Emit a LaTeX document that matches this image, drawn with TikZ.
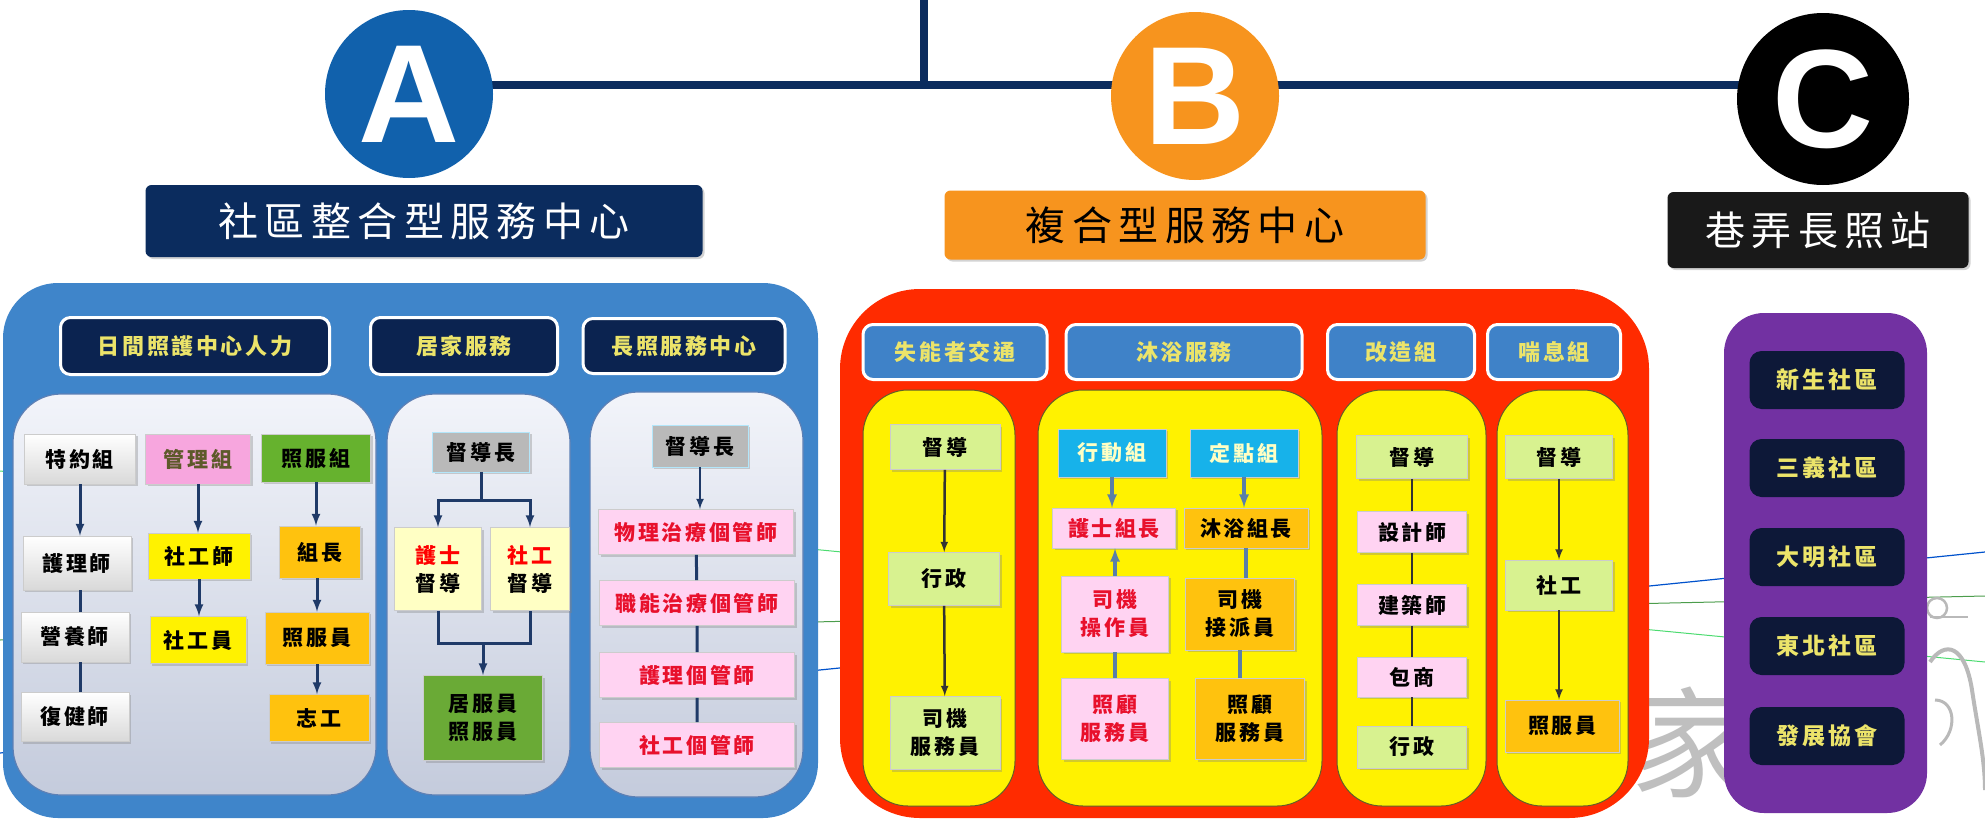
\documentclass[tikz,border=0pt]{standalone}
\usepackage{fontspec}
\usepackage{tikz}
\usetikzlibrary{shapes,arrows,shadows,backgrounds}
\usepackage{xcolor}
\newfontfamily\cjk[LetterSpace=12]{Noto Sans CJK TC}
\newfontfamily\cjktitle[LetterSpace=16]{Noto Sans CJK TC}
\newfontfamily\letterfont{Liberation Sans}
\definecolor{navy}{HTML}{0B2C5E}
\definecolor{navyH}{HTML}{0B2350}
\definecolor{circA}{HTML}{1161AC}
\definecolor{contA}{HTML}{3F85CA}
\definecolor{hdrtxt}{HTML}{ECE46A}
\definecolor{orangeB}{HTML}{F7941E}
\definecolor{redB}{HTML}{FF2B00}
\definecolor{hdrBfill}{HTML}{3F82C8}
\definecolor{lgreen}{HTML}{D8F290}
\definecolor{pinkL}{HTML}{FFD3F2}
\definecolor{pinkM}{HTML}{F7A6DE}
\definecolor{gold}{HTML}{FFC20E}
\definecolor{grass}{HTML}{66B22E}
\definecolor{grassD}{HTML}{6AAA36}
\definecolor{ltyel}{HTML}{FFFFC4}
\definecolor{cyanB}{HTML}{17B2EA}
\definecolor{purpleC}{HTML}{7231A2}
\definecolor{nightC}{HTML}{0D1838}
\definecolor{redtxt}{HTML}{E8102C}
\definecolor{linkA}{HTML}{1F3A68}
\definecolor{steel}{HTML}{5A7FA8}
\definecolor{panTop}{HTML}{F2F4FA}
\definecolor{panBot}{HTML}{C4CBDC}
\definecolor{panEdge}{HTML}{5D80B5}

\begin{document}
\begin{tikzpicture}[x=1pt,y=-1pt,
  sz/.style 2 args={minimum width=#1pt,minimum height=#2pt},
  shd/.style={drop shadow={shadow xshift=2pt,shadow yshift=-2pt,opacity=.35}},
  bx/.style={shd,draw=gray!40,line width=.8pt,inner sep=0pt,align=center,
    font=\cjk\bfseries\fontsize{21}{28}\selectfont},
  whitebx/.style={bx,top color=white,bottom color=gray!30},
  hdrA/.style={rounded corners=10pt,fill=navyH,draw=white,line width=3pt,inner sep=0pt,
    text=hdrtxt,font=\cjk\bfseries\fontsize{22}{26}\selectfont},
  hdrB/.style={hdrA,fill=hdrBfill},
  panelA/.style={rounded corners=48pt,top color=panTop,bottom color=panBot,draw=panEdge,
    line width=1.2pt,inner sep=0pt},
  panelB/.style={rounded corners=45pt,fill=yellow,draw=olive!60!black,line width=1pt,inner sep=0pt},
  cbox/.style={rounded corners=12pt,fill=nightC,inner sep=0pt,text=hdrtxt,
    font=\cjk\bfseries\fontsize{23}{26}\selectfont},
  title/.style={rounded corners=6pt,inner sep=0pt,shd,font=\cjktitle\fontsize{40}{44}\selectfont},
  letter/.style={circle,inner sep=0pt,minimum size=168pt,text=white,
    font=\letterfont\bfseries\fontsize{140}{140}\selectfont},
  lnk/.style={draw=linkA,line width=3pt},
  arr/.style={lnk,-latex},
  lnkS/.style={draw=steel,line width=3.5pt},
  arrS/.style={lnkS,-latex},
  lnkK/.style={draw=black!80,line width=2.5pt},
  arrK/.style={lnkK,-latex},
  spine/.style={draw=navy,line width=8pt}]
\useasboundingbox (0,0) rectangle (1985,822);

% faint lines behind
\draw[blue!60!cyan!80!black,line width=1.2pt] (0,753) -- (1985,552);
\draw[green!45!black!70,line width=1pt] (0,640) -- (1985,596);
\draw[green!60!teal!70,line width=1pt] (0,471) -- (1985,662);
\node[text=gray!50,font=\cjk\fontsize{120}{120}\selectfont] (jia) at (1690,742) {家};
\draw[gray!55,line width=4pt] (1930,662) .. controls (1945,640) and (1965,645) .. (1972,690)
  .. controls (1978,730) and (1985,760) .. (1985,790);
\draw[gray!55,line width=3pt] (1935,700) .. controls (1955,700) and (1958,730) .. (1940,745);
\draw[gray!55,line width=2.5pt] (1937,608) circle (10);
\draw[gray!55,line width=2.5pt] (1930,617) -- (1968,617);

% containers
\node[rounded corners=55pt,fill=contA,inner sep=0pt,sz={815}{535}] (boxA) at (410.5,550.5) {};
\node[rounded corners=80pt,fill=redB,inner sep=0pt,sz={809}{529}] (boxB) at (1244.5,553.5) {};
\node[rounded corners=40pt,fill=purpleC,inner sep=0pt,sz={203}{500}] (boxC) at (1825.5,563) {};

% circles and titles
\node[letter,fill=circA] (cA) at (409,94) {A};
\node[letter,fill=orangeB] (cB) at (1195,96) {B};
\node[letter,fill=black,minimum size=172pt] (cC) at (1823,99) {C};
\coordinate (top) at (924,0);
\coordinate (jn) at (924,85);
\begin{pgfonlayer}{background}
\draw[spine] (top) -- (jn);
\draw[spine] (cA.center |- jn) -- (cC.center |- jn);
\end{pgfonlayer}
\node[title,fill=navy,text=white,sz={557}{72}] (tA) at (424,221) {社區整合型服務中心};
\node[title,fill=orangeB,text=black,sz={481}{69}] (tB) at (1185,225) {複合型服務中心};
\node[title,fill=black!90,text=white,sz={301}{76}] (tC) at (1818,230) {巷弄長照站};

% A: headers and panels
\node[hdrA,sz={269}{57}] (hA1) at (195,346) {日間照護中心人力};
\node[hdrA,sz={187}{57}] (hA2) at (464,346) {居家服務};
\node[hdrA,sz={202}{55}] (hA3) at (684,346) {長照服務中心};
\node[panelA,sz={363}{401}] (pA1) at (194.5,594.5) {};
\node[panelA,sz={183}{401}] (pA2) at (478.5,594.5) {};
\node[panelA,sz={213}{405}] (pA3) at (696.5,594.5) {};

% day care staff
\node[whitebx,sz={111}{50}] (tey) at (80,459) {特約組};
\node[bx,sz={105}{50},fill=pinkM,text=olive!55!black] (gl) at (198,459) {管理組};
\node[bx,sz={109}{48},fill=grass] (zfz) at (316,458) {照服組};
\node[whitebx,sz={108}{54}] (hl) at (77,563) {護理師};
\node[whitebx,sz={108}{50}] (yy) at (75,637) {營養師};
\node[whitebx,sz={108}{49}] (fj) at (75,717) {復健師};
\node[bx,sz={102}{46},fill=yellow] (sgs) at (199,556) {社工師};
\node[bx,sz={96}{47},fill=yellow] (sgy) at (198,640) {社工員};
\node[bx,sz={81}{52},fill=gold] (zz) at (320,552) {組長};
\node[bx,sz={104}{52},fill=gold] (zfy) at (317,638) {照服員};
\node[bx,sz={100}{47},fill=gold] (zg) at (319,718) {志工};
\draw[arr] (tey.south) -- (tey.south |- hl.north);
\draw[lnk] (tey.south |- hl.south) -- (tey.south |- yy.north);
\draw[lnk] (tey.south |- yy.south) -- (tey.south |- fj.north);
\draw[arr] (gl.south) -- (gl.south |- sgs.north);
\draw[arr] (sgs.south) -- (sgs.south |- sgy.north);
\draw[arr] (zfz.south) -- (zfz.south |- zz.north);
\draw[arr] (zfy.north |- zz.south) -- (zfy.north);
\draw[arr] (zfy.south) -- (zfy.south |- zg.north);

% home service
\node[bx,sz={97}{40},fill=gray!55,draw=cyan!30] (ddz) at (481,452) {督導長};
\node[bx,sz={87}{83},fill=ltyel] (hsdd) at (438,569) {\textcolor{red}{護士}\\督導};
\node[bx,sz={79}{83},fill=ltyel] (sgdd) at (530,569) {\textcolor{red}{社工}\\督導};
\node[bx,sz={119}{85},fill=grassD] (jfy) at (483,718) {居服員\\照服員};
\coordinate (split) at (481,500);
\coordinate (join) at (483,643);
\draw[lnk] (ddz.south) -- (split);
\draw[arr] (split) -| (hsdd.north);
\draw[arr] (split) -| (sgdd.north);
\draw[lnk] (hsdd.south) |- (join) -| (sgdd.south);
\draw[arr] (join) -- (jfy.north);

% long-term care centre
\node[bx,sz={96}{42},fill=gray!55,draw=cyan!30] (ddz2) at (700,446) {督導長};
\node[bx,sz={195}{45},fill=pinkL,text=redtxt] (wl) at (696,532) {物理治療個管師};
\node[bx,sz={195}{45},fill=pinkL,text=redtxt] (zn) at (697,603) {職能治療個管師};
\node[bx,sz={195}{45},fill=pinkL,text=redtxt] (hlg) at (697,675) {護理個管師};
\node[bx,sz={195}{45},fill=pinkL,text=redtxt] (sgg) at (697,745) {社工個管師};
\draw[arr,line width=2.5pt] (ddz2.south) -- (ddz2.south |- wl.north);
\draw[lnk] (wl) -- (zn) -- (hlg) -- (sgg);

% B: headers and panels
\node[hdrB,sz={184}{55}] (hB1) at (955,352) {失能者交通};
\node[hdrB,sz={236}{55}] (hB2) at (1184,352) {沐浴服務};
\node[hdrB,sz={147}{55}] (hB3) at (1401,352) {改造組};
\node[hdrB,sz={133}{55}] (hB4) at (1554,352) {喘息組};
\node[panelB,sz={152}{416}] (pB1) at (939,598) {};
\node[panelB,sz={284}{416}] (pB2) at (1180,598) {};
\node[panelB,sz={149}{416}] (pB3) at (1411.5,598) {};
\node[panelB,sz={131}{416}] (pB4) at (1562.5,598) {};

% transport
\node[bx,sz={110}{45},fill=lgreen] (dd1) at (945,447) {督導};
\node[bx,sz={111}{53},fill=lgreen] (xz1) at (944,579) {行政};
\node[bx,sz={110}{73},fill=lgreen] (sj1) at (945,733) {司機\\服務員};
\draw[arrK] (dd1) -- (xz1);
\draw[arrK] (xz1) -- (sj1);

% bathing
\node[bx,sz={108}{48},fill=cyanB,text=ltyel] (xdz) at (1112,453) {行動組};
\node[bx,sz={108}{48},fill=cyanB,text=ltyel] (ddz3) at (1244,453) {定點組};
\node[bx,sz={123}{40},fill=pinkL,text=redtxt] (hszz) at (1114,528) {護士組長};
\node[bx,sz={124}{40},fill=gold] (myzz) at (1246,528) {沐浴組長};
\node[bx,sz={107}{76},fill=pinkL,text=redtxt] (sjc) at (1115,614) {司機\\操作員};
\node[bx,sz={109}{72},fill=gold] (sjp) at (1240,614) {司機\\接派員};
\node[bx,sz={107}{81},fill=pinkL,text=redtxt] (zg1) at (1115,719) {照顧\\服務員};
\node[bx,sz={109}{81},fill=gold] (zg2) at (1250,719) {照顧\\服務員};
\draw[arrS] (xdz.south) -- (xdz.south |- hszz.north);
\draw[arrS] (ddz3.south) -- (ddz3.south |- myzz.north);
\draw[arrS] (sjc.north) -- (sjc.north |- hszz.south);
\draw[lnkS] (sjc.south) -- (sjc.south |- zg1.north);
\draw[lnkS] (myzz.south) -- (myzz.south |- sjp.north);
\draw[lnkS] (sjp.south) -- (sjp.south |- zg2.north);

% home modification
\node[bx,sz={111}{43},fill=lgreen] (dd3) at (1412,457) {督導};
\node[bx,sz={109}{41},fill=pinkL] (sjs) at (1412,532) {設計師};
\node[bx,sz={109}{41},fill=pinkL] (jzs) at (1412,605) {建築師};
\node[bx,sz={109}{40},fill=pinkL] (bs) at (1412,677) {包商};
\node[bx,sz={109}{42},fill=lgreen] (xz3) at (1412,747) {行政};
\draw[lnkK] (dd3) -- (sjs) -- (jzs) -- (bs) -- (xz3);

% respite
\node[bx,sz={107}{43},fill=lgreen] (dd4) at (1559,457) {督導};
\node[bx,sz={107}{50},fill=lgreen] (sg4) at (1559,585) {社工};
\node[bx,sz={114}{52},fill=gold] (zfy4) at (1562,726) {照服員};
\draw[arrK] (dd4.south) -- (dd4.south |- sg4.north);
\draw[arrK] (sg4.south) -- (sg4.south |- zfy4.north);

% C: communities
\node[cbox,sz={155}{58}] (xs) at (1827,380) {新生社區};
\node[cbox,sz={155}{58}] (sy) at (1827,468) {三義社區};
\node[cbox,sz={155}{58}] (dm) at (1827,557) {大明社區};
\node[cbox,sz={155}{58}] (db) at (1827,646) {東北社區};
\node[cbox,sz={155}{58}] (fz) at (1827,736) {發展協會};
\end{tikzpicture}
\end{document}
